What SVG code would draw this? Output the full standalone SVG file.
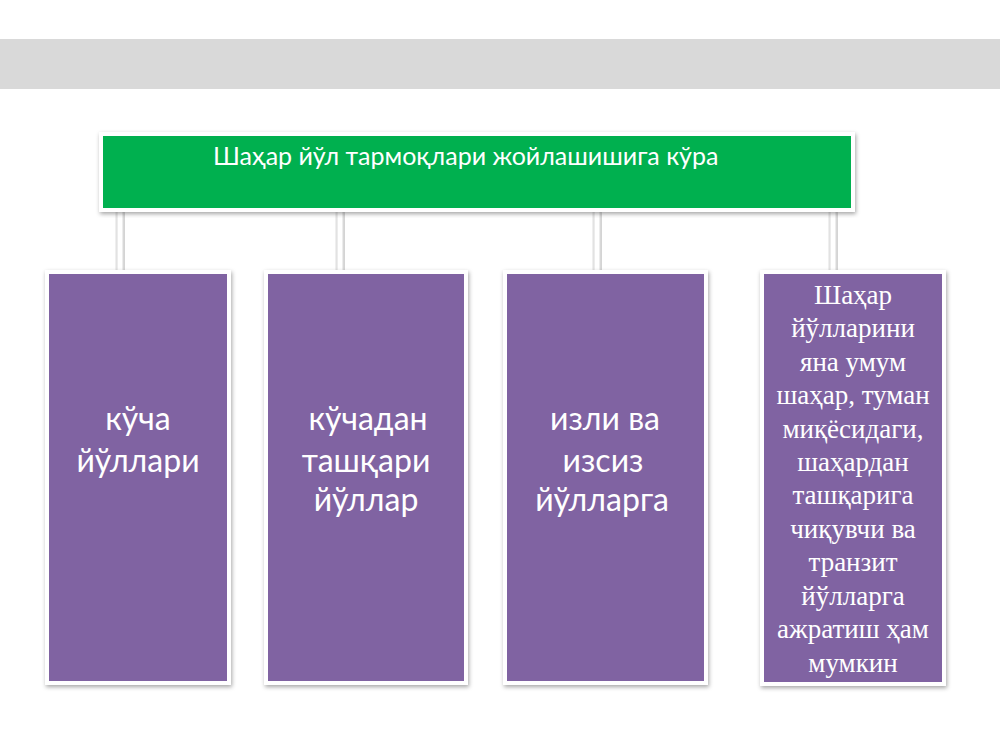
<svg xmlns="http://www.w3.org/2000/svg" width="1000" height="750" viewBox="0 0 1000 750">
<defs>
<filter id="sh" x="-20%" y="-10%" width="140%" height="120%">
<feDropShadow dx="1" dy="2" stdDeviation="2" flood-color="#000" flood-opacity="0.35"/>
</filter>
<style>
.green{fill:#00B050;stroke:#fff;stroke-width:4;filter:url(#sh)}
.purple{fill:#8064A2;stroke:#fff;stroke-width:4;filter:url(#sh)}
.conn{fill:#fff;stroke:#d0d0d0;stroke-width:0.8;filter:url(#sh)}
.t1{font-family:Lato,"Liberation Sans",sans-serif;font-size:25px;fill:#fff}
.t2{font-family:Lato,"Liberation Sans",sans-serif;font-size:32px;fill:#fff;text-anchor:middle}
.t3{font-family:"Liberation Serif",serif;font-size:27px;fill:#fff;text-anchor:middle}
</style>
</defs>
<rect x="0" y="39" width="1000" height="50" fill="#D9D9D9"/>
<g id="connectors">
<rect class="conn" x="117" y="209" width="6" height="64"/>
<rect class="conn" x="337" y="209" width="6" height="64"/>
<rect class="conn" x="594" y="209" width="6" height="64"/>
<rect class="conn" x="830" y="209" width="6" height="64"/>
</g>
<g id="top">
<rect class="green" x="101" y="134" width="752" height="76"/>
<text class="t1" x="213" y="165">Шаҳар йўл тармоқлари жойлашишига кўра</text>
</g>
<g id="n1">
<rect class="purple" x="47" y="272" width="182" height="411"/>
<text class="t2" x="138" y="430">кўча</text>
<text class="t2" x="138" y="472">йўллари</text>
</g>
<g id="n2">
<rect class="purple" x="266" y="272" width="200" height="411"/>
<text class="t2" x="368" y="430">кўчадан</text>
<text class="t2" x="366" y="472">ташқари</text>
<text class="t2" x="366" y="511">йўллар</text>
</g>
<g id="n3">
<rect class="purple" x="505" y="272" width="201" height="411"/>
<text class="t2" x="605" y="430">изли ва</text>
<text class="t2" x="603" y="472">изсиз</text>
<text class="t2" x="602" y="511">йўлларга</text>
</g>
<g id="n4">
<rect class="purple" x="762" y="272" width="182" height="412"/>
<text class="t3" x="853" y="304">Шаҳар</text>
<text class="t3" x="853" y="337">йўлларини</text>
<text class="t3" x="853" y="371">яна умум</text>
<text class="t3" x="853" y="404">шаҳар, туман</text>
<text class="t3" x="853" y="438">миқёсидаги,</text>
<text class="t3" x="853" y="471">шаҳардан</text>
<text class="t3" x="853" y="504">ташқарига</text>
<text class="t3" x="853" y="538">чиқувчи ва</text>
<text class="t3" x="853" y="571">транзит</text>
<text class="t3" x="853" y="605">йўлларга</text>
<text class="t3" x="853" y="638">ажратиш ҳам</text>
<text class="t3" x="853" y="672">мумкин</text>
</g>
</svg>
